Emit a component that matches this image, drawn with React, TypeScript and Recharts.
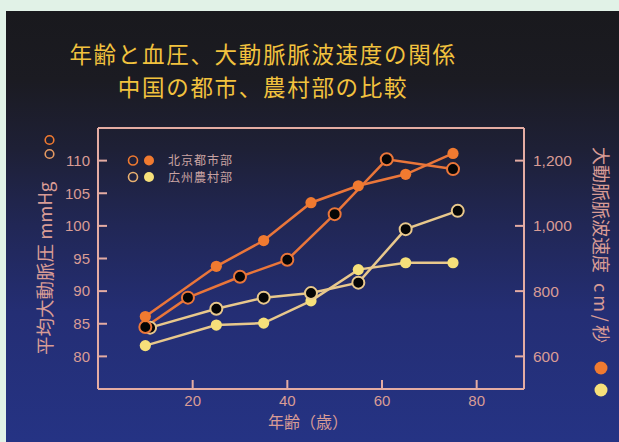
import React from 'react';
import { ComposedChart, Line, XAxis, YAxis } from 'recharts';

// Age (years) and mean aortic pressure (mmHg)
const bjPressureAges = [10, 19, 30, 40, 50, 61, 75];
const bjPressure = [84.5, 89.0, 92.2, 94.8, 101.8, 110.2, 108.7];
const gzPressureAges = [11, 25, 35, 45, 55, 65, 76];
const gzPressure = [84.4, 87.3, 89.0, 89.7, 91.3, 99.5, 102.3];

// Age (years) and aortic pulse wave velocity (cm/s)
const bjPwvAges = [10, 25, 35, 45, 55, 65, 75];
const bjPwv = [722, 876, 955, 1071, 1123, 1158, 1222];
const gzPwvAges = [10, 25, 35, 45, 55, 65, 75];
const gzPwv = [633, 696, 702, 770, 866, 887, 887];

const ageTicks = [20, 40, 60, 80];
const pressureTicks = [80, 85, 90, 95, 100, 105, 110];
const pwvTicks = [600, 800, 1000, 1200];

const seriesLabels = ['北京都市部', '広州農村部'];
const titleLines = ['年齢と血圧、大動脈脈波速度の関係', '中国の都市、農村部の比較'];

const zip = (ages: number[], vals: number[]) => ages.map((age, i) => ({ age, v: vals[i] }));

const ORANGE = '#f07a30';
const ORANGE_LINE = '#ea763a';
const YELLOW = '#f6e07a';
const YELLOW_LINE = '#e8c88c';
const FRAME = '#e4aca3';
const TICK_TEXT = '#d99c95';
const TITLE = '#f2c23e';
const JP = '"Noto Sans CJK JP", "Noto Sans", sans-serif';
const NUM = '"Liberation Sans", Arial, sans-serif';

const ringDot = (color: string) => (p: any) => (
  <circle key={`r-${p.index}`} cx={p.cx} cy={p.cy} r={6} fill="#050505" stroke={color} strokeWidth={2} />
);
const solidDot = (color: string) => (p: any) => (
  <circle key={`s-${p.index}`} cx={p.cx} cy={p.cy} r={5.6} fill={color} stroke="none" />
);

const tickStyle = { fill: TICK_TEXT, fontSize: 15, fontFamily: NUM };

export default function App() {
  return (
    <div style={{ position: 'fixed', left: 0, top: 0, width: 619, height: 442, background: '#e1f2e7', overflow: 'hidden' }}>
      <div
        style={{
          position: 'absolute',
          left: 6,
          top: 11,
          right: 0,
          bottom: 0,
          background:
            'linear-gradient(to bottom, #19191d 0%, #1b1b22 16%, #1e2036 32%, #212756 50%, #242e74 70%, #253384 100%)',
        }}
      />
      <div style={{ position: 'absolute', left: 0, top: 0 }}>
        <ComposedChart width={619} height={442} margin={{ top: 108, right: 35, bottom: 13, left: 38 }}>
          <XAxis
            dataKey="age"
            type="number"
            domain={[0, 90]}
            ticks={ageTicks}
            allowDuplicatedCategory={false}
            height={40}
            axisLine={{ stroke: FRAME, strokeWidth: 2 }}
            tickLine={{ stroke: FRAME, strokeWidth: 2 }}
            tickSize={-9}
            tickMargin={15}
            tick={tickStyle}
          />
          <XAxis
            xAxisId="top"
            orientation="top"
            dataKey="age"
            type="number"
            domain={[0, 90]}
            ticks={ageTicks}
            height={20}
            axisLine={{ stroke: FRAME, strokeWidth: 2 }}
            tickLine={{ stroke: FRAME, strokeWidth: 2 }}
            tickSize={-9}
            tick={false}
          />
          <YAxis
            yAxisId="bp"
            orientation="left"
            type="number"
            domain={[75, 115]}
            ticks={pressureTicks}
            width={60}
            axisLine={{ stroke: FRAME, strokeWidth: 2 }}
            tickLine={{ stroke: FRAME, strokeWidth: 2 }}
            tickSize={-9}
            tickMargin={17}
            tick={tickStyle}
          />
          <YAxis
            yAxisId="pwv"
            orientation="right"
            type="number"
            domain={[500, 1300]}
            ticks={pwvTicks}
            width={60}
            axisLine={{ stroke: FRAME, strokeWidth: 2 }}
            tickLine={{ stroke: FRAME, strokeWidth: 2 }}
            tickSize={-9}
            tickMargin={18}
            tick={{ ...tickStyle, fontSize: 15.5 }}
            tickFormatter={(v: number) => v.toLocaleString('en-US')}
          />
          <Line
            yAxisId="pwv"
            data={zip(gzPwvAges, gzPwv)}
            dataKey="v"
            stroke={YELLOW_LINE}
            strokeWidth={2.5}
            dot={solidDot(YELLOW)}
            activeDot={false}
            isAnimationActive={false}
          />
          <Line
            yAxisId="bp"
            data={zip(gzPressureAges, gzPressure)}
            dataKey="v"
            stroke={YELLOW_LINE}
            strokeWidth={2.5}
            dot={ringDot(YELLOW_LINE)}
            activeDot={false}
            isAnimationActive={false}
          />
          <Line
            yAxisId="bp"
            data={zip(bjPressureAges, bjPressure)}
            dataKey="v"
            stroke={ORANGE_LINE}
            strokeWidth={2.5}
            dot={ringDot(ORANGE_LINE)}
            activeDot={false}
            isAnimationActive={false}
          />
          <Line
            yAxisId="pwv"
            data={zip(bjPwvAges, bjPwv)}
            dataKey="v"
            stroke={ORANGE_LINE}
            strokeWidth={2.5}
            dot={solidDot(ORANGE)}
            activeDot={false}
            isAnimationActive={false}
          />
        </ComposedChart>
      </div>
      <svg width={619} height={442} style={{ position: 'absolute', left: 0, top: 0, pointerEvents: 'none' }}>
        {/* two-line title */}
        <text x={263} y={62.8} textAnchor="middle" fill={TITLE} fontSize={22.5} letterSpacing={1.7} fontFamily={JP}>
          {titleLines[0]}
        </text>
        <text x={263} y={96.2} textAnchor="middle" fill={TITLE} fontSize={22.5} letterSpacing={1.7} fontFamily={JP}>
          {titleLines[1]}
        </text>

        {/* legend */}
        <circle cx={133} cy={160.5} r={4.5} fill="none" stroke={ORANGE} strokeWidth={1.6} />
        <circle cx={149} cy={160.5} r={5} fill={ORANGE} />
        <text x={168} y={165} fill="#c9a3a2" fontSize={12} letterSpacing={1} fontFamily={JP}>
          {seriesLabels[0]}
        </text>
        <circle cx={133} cy={177} r={4.5} fill="none" stroke="#e8b070" strokeWidth={1.6} />
        <circle cx={149} cy={177} r={5} fill={YELLOW} />
        <text x={168} y={181.5} fill="#c9a3a2" fontSize={12} letterSpacing={1} fontFamily={JP}>
          {seriesLabels[1]}
        </text>

        {/* left axis title */}
        <text transform="translate(52,355) rotate(-90)" x={0} y={0} fill={TICK_TEXT} fontSize={18.5} fontFamily={JP}>
          平均大動脈圧 mmHg
        </text>
        <circle cx={49.5} cy={154} r={4.3} fill="none" stroke="#e59a62" strokeWidth={1.6} />
        <circle cx={49.5} cy={140} r={4.3} fill="none" stroke={ORANGE} strokeWidth={1.6} />

        {/* right axis title */}
        <text transform="translate(594,147) rotate(90)" x={0} y={0} fill={TICK_TEXT} fontSize={18} fontFamily={JP}>
          大動脈脈波速度
          <tspan dx={10} letterSpacing={3}>cm/</tspan>
          <tspan>秒</tspan>
        </text>
        <circle cx={601} cy={368} r={6.5} fill={ORANGE} />
        <circle cx={601} cy={390} r={6.5} fill={YELLOW} />

        {/* x axis title */}
        <text x={308} y={428} textAnchor="middle" fill={TICK_TEXT} fontSize={16} fontFamily={JP}>
          年齢（歳）
        </text>
      </svg>
    </div>
  );
}
